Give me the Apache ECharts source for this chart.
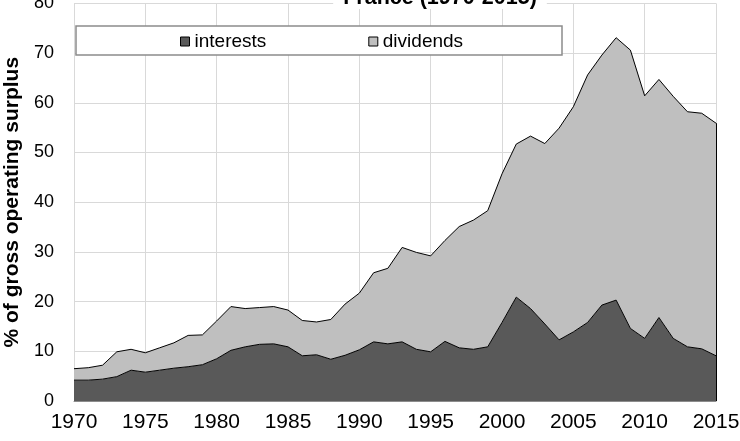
<!DOCTYPE html>
<html>
<head>
<meta charset="utf-8">
<script src="https://cdn.jsdelivr.net/npm/echarts@6/dist/echarts.min.js"></script>
<style>
html,body{margin:0;padding:0;background:#fff;}
#chart{width:740px;height:441px;}
</style>
</head>
<body>
<div id="chart"></div>
<script>
var years = ['1970','1971','1972','1973','1974','1975','1976','1977','1978','1979',
  '1980','1981','1982','1983','1984','1985','1986','1987','1988','1989',
  '1990','1991','1992','1993','1994','1995','1996','1997','1998','1999',
  '2000','2001','2002','2003','2004','2005','2006','2007','2008','2009',
  '2010','2011','2012','2013','2014','2015'];
var interests = [4.2,4.2,4.4,4.9,6.2,5.8,6.2,6.6,6.9,7.3,
  8.5,10.2,10.9,11.4,11.5,10.9,9.1,9.3,8.4,9.2,
  10.3,11.9,11.5,11.9,10.4,9.9,12.0,10.7,10.4,10.9,
  15.8,20.9,18.6,15.5,12.3,13.9,15.8,19.3,20.3,14.6,
  12.6,16.8,12.6,10.9,10.5,9.1];
var dividends = [2.3,2.5,2.8,5.0,4.2,3.9,4.5,5.1,6.3,6.0,
  7.6,8.8,7.7,7.4,7.5,7.4,7.1,6.6,8.0,10.3,
  11.4,13.9,15.2,19.0,19.5,19.3,20.3,24.4,26.0,27.4,
  29.9,30.8,34.7,36.3,42.6,45.3,49.8,50.3,52.8,56.0,
  48.8,47.9,48.7,47.3,47.4,46.8];
var seriesNames = ['interests','dividends'];
var titleText = 'France (1970-2015)';
var yAxisTitle = '% of gross operating surplus';

var lastIdx = years.length - 1;
var lastTotal = interests[lastIdx] + dividends[lastIdx];
var font = 'Liberation Sans, Arial, sans-serif';

var chart = echarts.init(document.getElementById('chart'));
chart.setOption({
  animation: false,
  backgroundColor: '#fff',
  title: {
    text: titleText,
    left: 430,
    textAlign: 'center',
    top: -12,
    padding: [0, 10],
    backgroundColor: '#fff',
    textStyle: {fontFamily: font, fontSize: 21.5, fontWeight: 'bold', color: '#000', lineHeight: 20}
  },
  graphic: [{
    type: 'rect', z: 3, silent: true,
    shape: {x: 76, y: 26, width: 486, height: 29},
    style: {fill: '#fff', stroke: '#8c8c8c', lineWidth: 1.5}
  }],
  legend: {
    z: 10,
    left: 180, top: 32,
    padding: 0,
    itemWidth: 9, itemHeight: 9, itemGap: 102,
    icon: 'rect',
    itemStyle: {borderColor: '#000', borderWidth: 1},
    textStyle: {fontFamily: font, fontSize: 19, color: '#000'},
    data: seriesNames
  },
  grid: {left: 74, right: 24, top: 3.4, bottom: 40, containLabel: false, outerBoundsMode: 'none'},
  xAxis: {
    type: 'category',
    data: years,
    boundaryGap: false,
    axisLine: {show: true, lineStyle: {color: '#8c8c8c', width: 1}},
    axisTick: {show: false},
    axisLabel: {interval: 4, margin: 11, fontFamily: font, fontSize: 21, color: '#000'},
    splitLine: {show: true, interval: 4, lineStyle: {color: '#d9d9d9', width: 1}}
  },
  yAxis: {
    type: 'value',
    min: 0, max: 80, interval: 10,
    name: yAxisTitle,
    nameLocation: 'middle',
    nameGap: 48,
    nameTextStyle: {fontFamily: font, fontSize: 21, fontWeight: 'bold', color: '#000'},
    axisLine: {show: true, lineStyle: {color: '#d9d9d9', width: 1}},
    axisTick: {show: false},
    axisLabel: {margin: 20, fontFamily: font, fontSize: 18, color: '#000'},
    splitLine: {show: true, lineStyle: {color: '#d9d9d9', width: 1}}
  },
  series: [{
    name: seriesNames[0],
    type: 'line',
    stack: 'total',
    data: interests,
    symbol: 'none',
    lineStyle: {color: '#000', width: 1},
    itemStyle: {color: '#595959'},
    areaStyle: {color: '#595959', opacity: 1}
  }, {
    name: seriesNames[1],
    type: 'line',
    stack: 'total',
    data: dividends,
    symbol: 'none',
    lineStyle: {color: '#000', width: 1},
    itemStyle: {color: '#bfbfbf'},
    areaStyle: {color: '#bfbfbf', opacity: 1},
    markLine: {
      silent: true,
      symbol: 'none',
      label: {show: false},
      lineStyle: {color: '#000', width: 1, type: 'solid'},
      data: [[{coord: [years[lastIdx], 0]}, {coord: [years[lastIdx], lastTotal]}]]
    }
  }]
});
</script>
</body>
</html>
